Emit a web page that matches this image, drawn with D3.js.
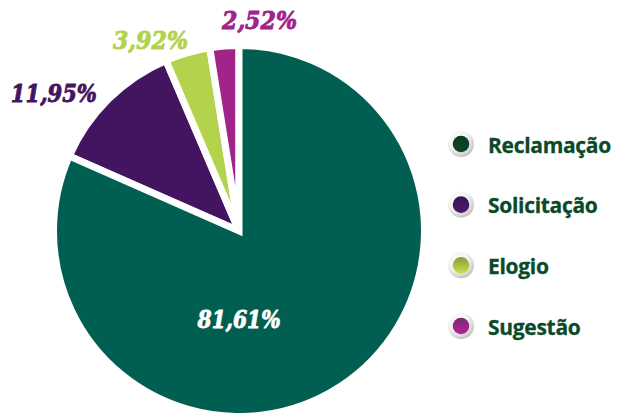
<!DOCTYPE html>
<html>
<head>
<meta charset="utf-8">
<script src="https://cdn.jsdelivr.net/npm/d3@7"></script>
<style>
  html, body { margin: 0; padding: 0; background: #ffffff; }
  svg { display: block; }
</style>
</head>
<body>
<svg id="chart" width="621" height="413"></svg>
<script>
// ---- data ----
const categories = ["Reclamação", "Solicitação", "Elogio", "Sugestão"];
const values = [81.61, 11.95, 3.92, 2.52];
const valueLabels = ["81,61%", "11,95%", "3,92%", "2,52%"];
const sliceColors = ["#005f51", "#431560", "#b2d34b", "#a1248b"];
const legendTopColors = ["#0a3d20", "#381451", "#8a9a3a", "#7a2c6c"];
const legendBottomColors = ["#0c4526", "#4a1a6b", "#cbe24c", "#b5209c"];

// ---- layout ----
const W = 621, H = 413;
const cx = 239, cy = 231, R = 185.5, gap = 7;
const labelR = 200;
const labelNudge = [[0, 0], [-1.5, 12.8], [4.5, 9.8], [-1.2, -2.6]];
const labelAnchor = ["middle", "end", "end", "start"];

const svg = d3.select("#chart");
const defs = svg.append("defs");

const pie = d3.pie().sort(null).value(d => d)(values);
const arc = d3.arc().innerRadius(0).outerRadius(R);

const g = svg.append("g").attr("transform", `translate(${cx},${cy})`);

// draw small slices first, main slice last so its stroke defines its corner
const order = pie.map((d, i) => i).slice(1).concat([0]);
g.selectAll("path.slice")
  .data(order.map(i => ({ p: pie[i], i })))
  .join("path")
  .attr("class", "slice")
  .attr("d", d => arc(d.p))
  .attr("fill", d => sliceColors[d.i])
  .attr("stroke", "#ffffff")
  .attr("stroke-width", gap)
  .attr("stroke-linejoin", "miter")
  .attr("stroke-miterlimit", 4);

// ---- value labels ----
const labelFont = "'DejaVu Serif', serif";
const targetW = [83, 86, 75, 75];
pie.forEach((p, i) => {
  let x, y;
  if (i === 0) {
    x = 0; y = 97;
  } else {
    const a = (p.startAngle + p.endAngle) / 2;
    x = Math.sin(a) * labelR + labelNudge[i][0];
    y = -Math.cos(a) * labelR + labelNudge[i][1];
  }
  const col = i === 0 ? "#ffffff" : sliceColors[i];
  g.append("text")
    .attr("x", x).attr("y", y)
    .attr("text-anchor", labelAnchor[i])
    .attr("font-family", labelFont)
    .attr("font-style", "italic")
    .attr("font-weight", "bold")
    .attr("font-size", 25)
    .attr("textLength", targetW[i])
    .attr("lengthAdjust", "spacingAndGlyphs")
    .attr("fill", col)
    .attr("stroke", col)
    .attr("stroke-width", 0.9)
    .attr("stroke-linejoin", "round")
    .text(valueLabels[i]);
});

// ---- legend ----
const ringGrad = defs.append("radialGradient")
  .attr("id", "ring").attr("cx", "40%").attr("cy", "35%").attr("r", "70%");
ringGrad.append("stop").attr("offset", "0%").attr("stop-color", "#ffffff");
ringGrad.append("stop").attr("offset", "55%").attr("stop-color", "#f3f3f3");
ringGrad.append("stop").attr("offset", "85%").attr("stop-color", "#cfcfcf");
ringGrad.append("stop").attr("offset", "100%").attr("stop-color", "#b5b5b5");

categories.forEach((c, i) => {
  const lg = defs.append("linearGradient")
    .attr("id", "dot" + i).attr("x1", 0).attr("y1", 0).attr("x2", 0).attr("y2", 1);
  lg.append("stop").attr("offset", "0%").attr("stop-color", legendTopColors[i]);
  lg.append("stop").attr("offset", "100%").attr("stop-color", legendBottomColors[i]);
});

const legendY = d3.scalePoint().domain(categories).range([144, 326]);
const legend = svg.append("g").attr("transform", "translate(461,0)");
const item = legend.selectAll("g.item")
  .data(categories)
  .join("g")
  .attr("class", "item")
  .attr("transform", d => `translate(0,${legendY(d)})`);

item.append("circle").attr("r", 13).attr("fill", "url(#ring)");
item.append("circle").attr("r", 8.3).attr("fill", (d, i) => `url(#dot${i})`);
item.append("text")
  .attr("x", 27)
  .attr("y", 8.5)
  .attr("font-family", "'Open Sans', sans-serif")
  .attr("font-weight", 700)
  .attr("font-size", 21)
  .attr("letter-spacing", -0.3)
  .attr("fill", "#0b4a29")
  .attr("stroke", "#0b4a29")
  .attr("stroke-width", 0.3)
  .text(d => d);
</script>
</body>
</html>
